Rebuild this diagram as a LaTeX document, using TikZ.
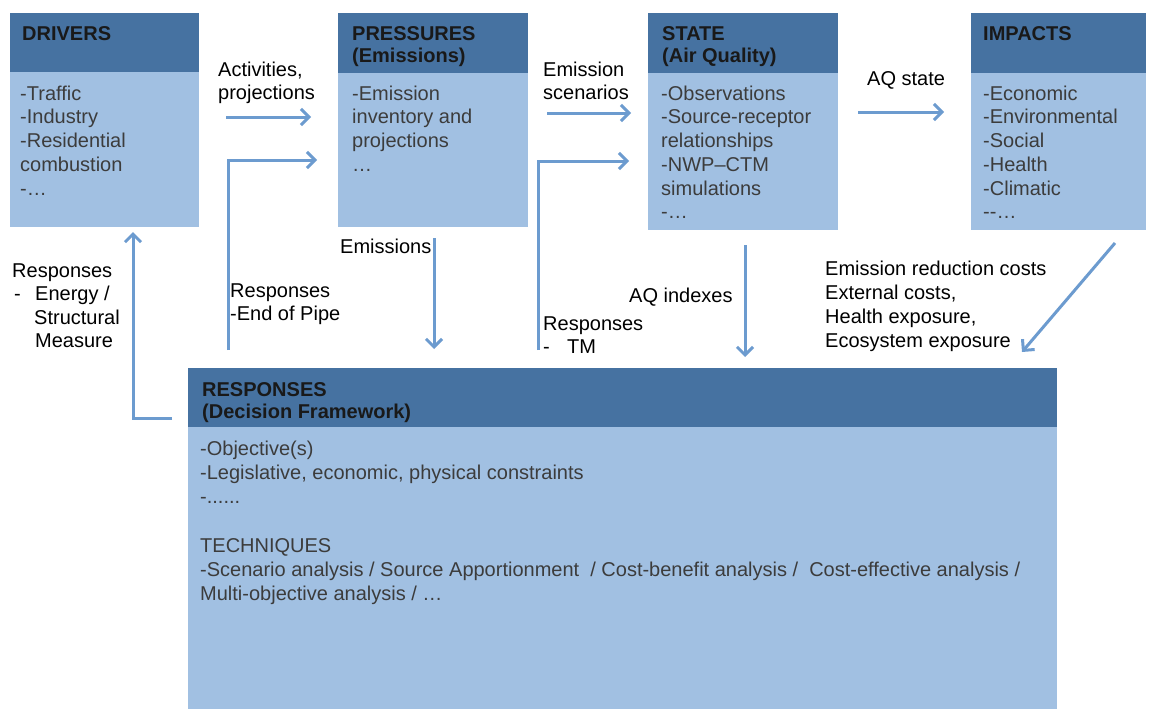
\documentclass[tikz,border=0pt]{standalone}
\usepackage{fontspec}
\setmainfont{Liberation Sans}
\usetikzlibrary{arrows.meta}
\definecolor{hdr}{RGB}{70,114,161}
\definecolor{bdy}{RGB}{161,192,226}
\definecolor{arc}{RGB}{108,155,207}
\definecolor{txg}{RGB}{60,60,60}
\definecolor{txh}{RGB}{25,25,25}
\begin{document}
\begin{tikzpicture}[x=1pt,y=-1pt,
  bodybox/.style={fill=bdy, draw=none, inner sep=0pt, outer sep=0pt, anchor=north west},
  headbox/.style={fill=hdr, draw=none, inner sep=0pt, outer sep=0pt, anchor=north west},
  ttl/.style={anchor=north west, inner sep=0pt, align=left, text=txh, font=\fontsize{20}{22}\selectfont\bfseries},
  itm/.style={anchor=north west, inner sep=0pt, align=left, text=txg, font=\fontsize{20}{23.75}\selectfont},
  ritm/.style={anchor=north west, inner sep=0pt, align=left, text=txg, font=\fontsize{20}{24.2}\selectfont},
  lbl/.style={anchor=north west, inner sep=0pt, align=left, text=black, font=\fontsize{20}{23.5}\selectfont},
  lblw/.style={anchor=north west, inner sep=0pt, align=left, text=black, font=\fontsize{20}{24}\selectfont},
  arr/.style={draw=arc, line width=3pt, -{Straight Barb[length=8pt,width=16pt]}}]
\useasboundingbox[fill=white] (0,0) rectangle (1151,709);

% DRIVERS
\node[bodybox, minimum width=189pt, minimum height=214pt] (drv) at (10,13) {};
\node[headbox, minimum width=189pt, minimum height=59pt] (drvh) at (10,13) {};
\node[ttl] (drvt) at (22,24.6) {\strut DRIVERS};
\node[itm] (drvl) at (20,83.4) {\strut-Traffic\\-Industry\\-Residential\\combustion\\-…};

% PRESSURES
\node[bodybox, minimum width=190pt, minimum height=214pt] (prs) at (338,13) {};
\node[headbox, minimum width=190pt, minimum height=60pt] (prsh) at (338,13) {};
\node[ttl] (prst) at (352,24.6) {\strut PRESSURES\\(Emissions)};
\node[itm] (prsl) at (352,83.4) {\strut-Emission\\inventory and\\projections\\…};

% STATE
\node[bodybox, minimum width=190pt, minimum height=217pt] (sta) at (648,13) {};
\node[headbox, minimum width=190pt, minimum height=60pt] (stah) at (648,13) {};
\node[ttl] (stat) at (662,24.6) {\strut STATE\\(Air Quality)};
\node[itm] (stal) at (661,83.4) {\strut-Observations\\-Source-receptor\\relationships\\-NWP–CTM\\simulations\\-…};

% IMPACTS
\node[bodybox, minimum width=175pt, minimum height=217pt] (imp) at (971,13) {};
\node[headbox, minimum width=175pt, minimum height=60pt] (imph) at (971,13) {};
\node[ttl] (impt) at (983,24.6) {\strut IMPACTS};
\node[itm] (impl) at (983,83.4) {\strut-Economic\\-Environmental\\-Social\\-Health\\-Climatic\\-{}-…};

% RESPONSES
\node[bodybox, minimum width=869pt, minimum height=342pt] (rsp) at (188,368) {};
\node[headbox, minimum width=869pt, minimum height=59pt] (rsph) at (188,368) {};
\node[ttl] (rspt) at (202,380.6) {\strut RESPONSES\\(Decision Framework)};
\node[ritm] (rspa) at (200,438.1) {\strut-Objective(s)\\-Legislative, economic, physical constraints\\-......};
\node[ritm] (rspb) at (200,535.1) {\strut TECHNIQUES\\-Scenario analysis / Source Apportionment\ \ / Cost-benefit analysis /\ \ Cost-effective analysis /\\Multi-objective analysis / …};

% labels
\node[lbl] (lact) at (218,59.55) {\strut Activities,\\projections};
\node[lbl] (lems) at (543,59.55) {\strut Emission\\scenarios};
\node[lbl] (laqs) at (867,68.55) {\strut AQ state};
\node[lbl] (lemi) at (340,236.55) {\strut Emissions};
\node[lbl] (leop) at (230,280.55) {\strut Responses\\-End of Pipe};
\node[lbl] (ltm) at (543,313.55) {\strut Responses\\\makebox[24pt][l]{-}TM};
\node[lbl] (laqi) at (629,285.55) {\strut AQ indexes};
\node[lblw] (lcost) at (825,258.55) {\strut Emission reduction costs\\External costs,\\Health exposure,\\Ecosystem exposure};
\node[lbl] (lene) at (12,260.55) {\strut Responses\\\makebox[23pt][l]{\hspace*{2pt}-}Energy /\\\hspace*{22pt}Structural\\\hspace*{23pt}Measure};

% arrow end points
\coordinate (a1s) at (226,117); \coordinate (a1e) at (311,117);
\coordinate (a2s) at (228,350); \coordinate (a2e) at (317,160);
\coordinate (a3s) at (547,113); \coordinate (a3e) at (631,113);
\coordinate (a4s) at (538,350); \coordinate (a4e) at (629,161);
\coordinate (a5s) at (858,112); \coordinate (a5e) at (944,112);
\coordinate (a6s) at (434,238); \coordinate (a6e) at (434,349);
\coordinate (a7s) at (745,245); \coordinate (a7e) at (745,357);
\coordinate (a8s) at (1115,243); \coordinate (a8e) at (1022,352);
\coordinate (a9s) at (172,418); \coordinate (a9e) at (133,232);

\draw[arr] (a1s) -- (a1e);
\draw[arr] (a2s) |- (a2e);
\draw[arr] (a3s) -- (a3e);
\draw[arr] (a4s) |- (a4e);
\draw[arr] (a5s) -- (a5e);
\draw[arr] (a6s) -- (a6e);
\draw[arr] (a7s) -- (a7e);
\draw[arr] (a8s) -- (a8e);
\draw[arr] (a9s) -| (a9e);
\end{tikzpicture}
\end{document}
